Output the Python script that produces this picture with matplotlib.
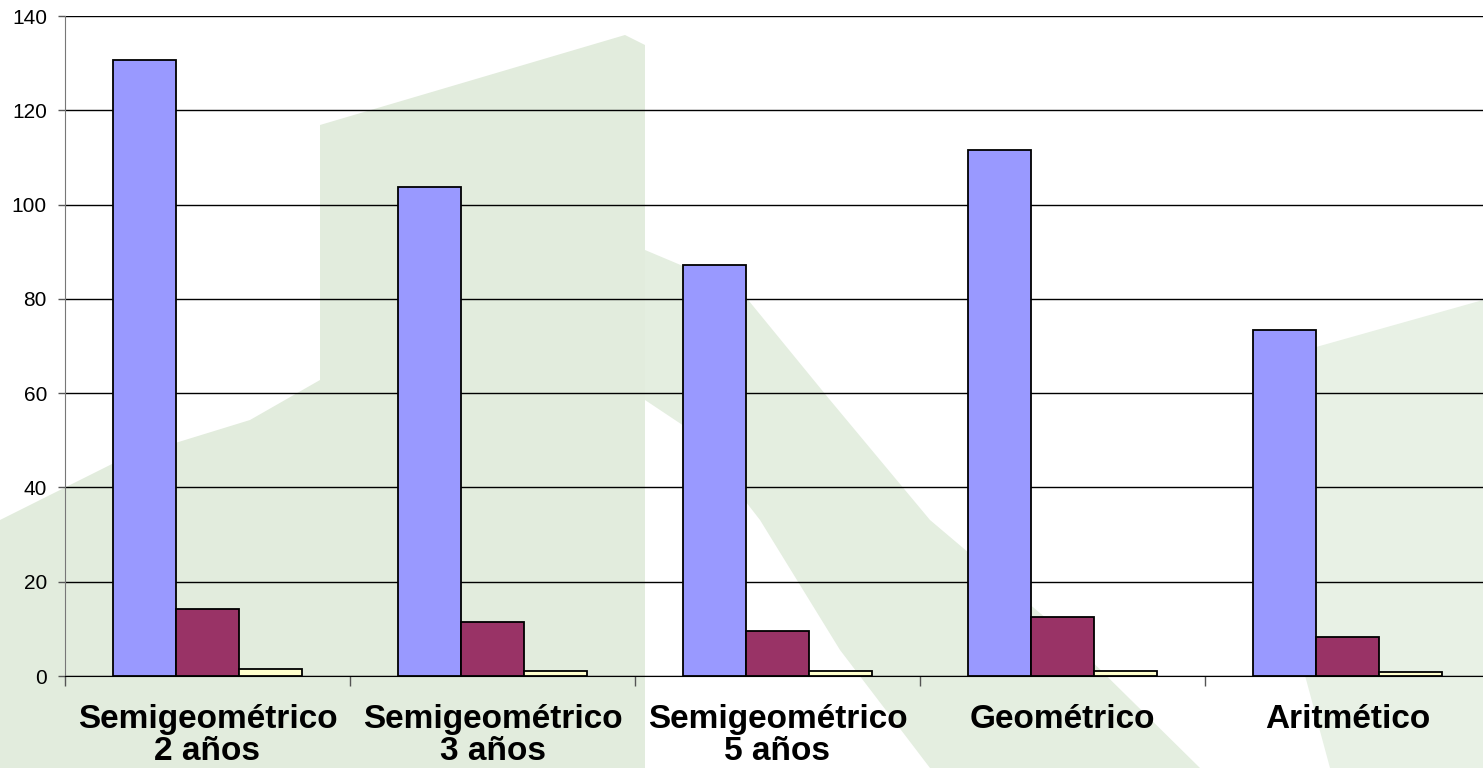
import matplotlib
matplotlib.use("Agg")
import matplotlib.pyplot as plt
from matplotlib.patches import Polygon
import numpy as np

plt.rcParams['font.family'] = ['Liberation Sans', 'DejaVu Sans']

# Data
categories = ["Semigeométrico\n2 años", "Semigeométrico\n3 años",
              "Semigeométrico\n5 años", "Geométrico", "Aritmético"]
serie_a = [130.7, 103.8, 87.2, 111.6, 73.5]
serie_b = [14.3, 11.5, 9.5, 12.6, 8.3]
serie_c = [1.5, 1.1, 1.0, 1.1, 0.8]
y_ticks = [0, 20, 40, 60, 80, 100, 120, 140]

colors = ["#9999FF", "#993366", "#FFFFCC"]

W, H = 1483, 768
fig = plt.figure(figsize=(W / 100, H / 100), dpi=100)
fig.patch.set_facecolor("white")


def px(points):
    return [(x / W, 1 - y / H) for x, y in points]


# Faint green backdrop shapes
shapes = [
    ("#e2ecdd", [(320, 125), (625, 35), (645, 45), (645, 768), (0, 768),
                 (0, 520), (120, 460), (250, 420), (320, 380)]),
    ("#e4eee0", [(645, 250), (740, 290), (830, 400), (930, 520),
                 (1060, 630), (1200, 768), (930, 768), (840, 650),
                 (760, 520), (690, 430), (645, 400)]),
    ("#e8f1e5", [(1270, 360), (1483, 300), (1483, 768), (1330, 768),
                 (1290, 620)]),
]
for col, pts in shapes:
    fig.add_artist(Polygon(px(pts), closed=True, transform=fig.transFigure,
                           facecolor=col, edgecolor="none", zorder=0))

ax = fig.add_axes([65 / W, (H - 676) / H, 1 - 65 / W, (676 - 16) / H])
ax.set_facecolor("none")

x = np.arange(len(categories))
bw = 0.221
for k, (vals, c) in enumerate(zip([serie_a, serie_b, serie_c], colors)):
    ax.bar(x + (k - 1) * bw, vals, width=bw, color=c, edgecolor="black",
           linewidth=1.3, zorder=3)

ax.set_xlim(-0.5, -0.5 + (W - 65) / 285)
ax.set_ylim(0, 140)
ax.set_yticks(y_ticks)
ax.set_yticklabels([str(v) for v in y_ticks], fontsize=15)
ax.tick_params(axis="y", length=5, width=1, pad=8, color="#555555")
ax.yaxis.grid(True, color="black", linewidth=1)
ax.set_axisbelow(True)

# Group boundary ticks and centred category labels
ax.set_xticks(np.arange(len(categories)) - 0.5)
ax.set_xticklabels([])
ax.tick_params(axis="x", which="major", length=7, width=1, direction="out",
               color="#555555")
ax.set_xticks(x, minor=True)
ax.set_xticklabels(categories, minor=True, fontsize=24, fontweight="bold",
                   linespacing=1.05)
ax.tick_params(axis="x", which="minor", length=0, pad=20)

for s in ["top", "right"]:
    ax.spines[s].set_visible(False)
ax.spines["left"].set_color("#777777")
ax.spines["bottom"].set_color("black")
ax.spines["left"].set_bounds(0, 140)

fig.savefig("out.png", dpi=100)
